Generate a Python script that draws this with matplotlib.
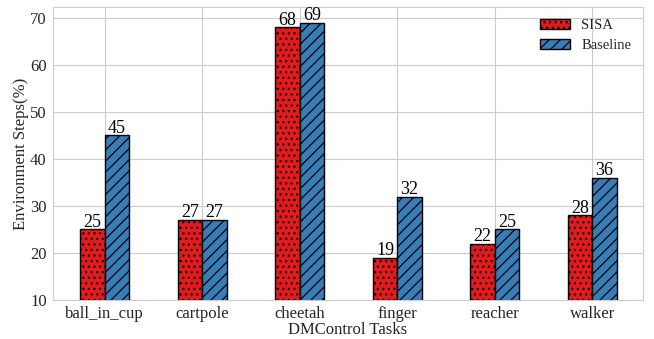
import numpy as np
import matplotlib.pyplot as plt
import seaborn as sns

tasks = ['ball_in_cup', 'cartpole', 'cheetah', 'finger', 'reacher', 'walker']
sisa = [25, 27, 68, 19, 22, 28]
baseline = [45, 27, 69, 32, 25, 36]

sns.set_style('whitegrid')
plt.rcParams['font.family'] = ['Liberation Serif', 'DejaVu Serif']
plt.rcParams['hatch.linewidth'] = 0.9

fig, ax = plt.subplots(figsize=(6.54, 3.39), dpi=100)
x = np.arange(len(tasks))
w = 0.25

b1 = ax.bar(x - w / 2, sisa, w, color='#e41a1c', edgecolor='black', hatch='...', label='SISA', zorder=3)
b2 = ax.bar(x + w / 2, baseline, w, color='#377eb8', edgecolor='black', hatch='///', label='Baseline', zorder=3)
ax.bar_label(b1, fontsize=13, padding=-1, color='black')
ax.bar_label(b2, fontsize=13, padding=-1, color='black')

ax.set_xticks(x)
ax.set_xticklabels(tasks)
ax.tick_params(axis='both', labelsize=12, pad=1)
ax.set_ylim(10, 72.3)
ax.set_xlim(-0.53, 5.52)
ax.set_xlabel('DMControl Tasks', fontsize=12, labelpad=0)
ax.set_ylabel('Environment Steps(%)', fontsize=12, labelpad=1)
ax.legend(frameon=False, fontsize=10.5, loc='upper right', borderaxespad=0.4)

fig.subplots_adjust(left=0.081, right=0.983, top=0.979, bottom=0.115)
fig.savefig('out.png')
